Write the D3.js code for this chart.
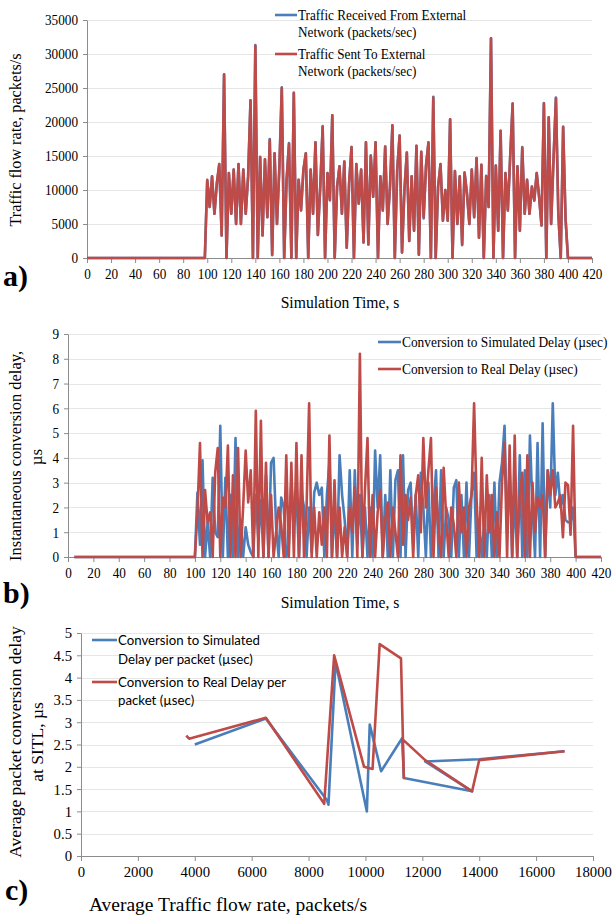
<!DOCTYPE html>
<html>
<head>
<meta charset="utf-8">
<title>Traffic flow and conversion delay</title>
<script src="https://d3js.org/d3.v7.min.js"></script>
<style>
    body { margin: 0; background: #fff; }
    .tick text { font-family: 'Liberation Serif', 'Times New Roman', serif; }
</style>
</head>
<body>
<div id="chart"></div>
<script>
// ---- panel a: traffic flow rate vs simulation time ----
var timeA = [0, 96, 98,
    100, 102, 104, 106, 108, 110, 112, 114, 116, 118,
    120, 122, 124, 126, 128, 130, 132, 134, 136, 138,
    140, 142, 144, 146, 148, 150, 152, 154, 156, 158,
    160, 162, 164, 166, 168, 170, 172, 174, 176, 178,
    180, 182, 184, 186, 188, 190, 192, 194, 196, 198,
    200, 202, 204, 206, 208, 210, 212, 214, 216, 218,
    220, 222, 224, 226, 228, 230, 232, 234, 236, 238,
    240, 242, 244, 246, 248, 250, 252, 254, 256, 258,
    260, 262, 264, 266, 268, 270, 272, 274, 276, 278,
    280, 282, 284, 286, 288, 290, 292, 294, 296, 298,
    300, 302, 304, 306, 308, 310, 312, 314, 316, 318,
    320, 322, 324, 326, 328, 330, 332, 334, 336, 338,
    340, 342, 344, 346, 348, 350, 352, 354, 356, 358,
    360, 362, 364, 366, 368, 370, 372, 374, 376, 378,
    380, 382, 384, 386, 388, 390, 392, 394, 396, 398,
    400, 402, 404, 420];

var sentA = [0, 0, 0,
    11500, 7500, 12000, 6500, 11000, 13800, 3300, 27000, 0, 12500,
    6500, 13000, 5000, 13800, 5000, 13000, 6500, 12000, 23200, 0,
    31200, 0, 14800, 3300, 14500, 6000, 17400, 500, 15400, 5000,
    13300, 25000, 0, 11500, 16800, 0, 24300, 0, 11500, 7000,
    13000, 15400, 0, 13000, 6500, 17000, 3400, 10500, 19300, 0,
    12500, 8500, 21000, 0, 10500, 13500, 6500, 14200, 1500, 11000,
    16300, 0, 13800, 8000, 13000, 2300, 17000, 2000, 15000, 9000,
    17000, 0, 12000, 7000, 16400, 5000, 10500, 19500, 0, 13000,
    18000, 800, 10000, 15500, 2500, 12000, 4000, 16500, 500, 15600,
    6000, 13700, 17000, 0, 23600, 0, 10500, 13800, 5500, 10000,
    5500, 20400, 0, 12800, 5000, 12000, 2000, 12500, 9500, 5000,
    13000, 6000, 14700, 3000, 13700, 0, 12000, 7500, 32300, 0,
    13600, 4000, 18700, 0, 12500, 7000, 15000, 22700, 0, 13500,
    4000, 16200, 6500, 11500, 6500, 10500, 8500, 12500, 9000, 4800,
    22700, 0, 20700, 5000, 14500, 23500, 6500, 0, 19300, 5800,
    0, 0, 0, 0];

var recvA = [0, 0, 0,
    11400, 7500, 12000, 6500, 11000, 13800, 3300, 27000, 0, 12500,
    6500, 13000, 5000, 13800, 5000, 13000, 6500, 12000, 23200, 0,
    31300, 0, 14900, 3300, 14500, 6000, 17500, 400, 15400, 5000,
    13400, 25100, 0, 11500, 16900, 0, 24300, 0, 11500, 7000,
    13000, 15400, 0, 13000, 6500, 17000, 3400, 10500, 19400, 0,
    12500, 8500, 21000, 0, 10500, 13500, 6500, 14200, 1500, 11000,
    16300, 0, 13800, 8000, 13000, 2300, 17000, 2000, 15100, 9000,
    17000, 0, 12000, 7000, 16400, 5000, 10500, 19500, 0, 13000,
    18000, 800, 10000, 15500, 2500, 12000, 4000, 16500, 500, 15600,
    5800, 13700, 17000, 0, 23700, 0, 10500, 13800, 5500, 10000,
    5500, 20400, 0, 12800, 5000, 12000, 1900, 12600, 9500, 5000,
    13000, 6000, 14700, 3000, 13700, 0, 12100, 7500, 32300, 0,
    13600, 4000, 18700, 0, 12500, 7000, 15100, 22700, 0, 13500,
    4000, 16300, 6500, 11500, 6500, 10500, 8400, 12500, 9000, 4800,
    22800, 0, 20700, 5000, 14500, 23600, 6500, 0, 19300, 5800,
    0, 0, 0, 0];

// ---- panel b: instantaneous conversion delay vs simulation time ----
var timeB = [5, 98,
    100, 102, 104, 106, 108, 110, 112, 114, 116, 118,
    120, 122, 124, 126, 128, 130, 132, 134, 136, 138,
    140, 142, 144, 146, 148, 150, 152, 154, 156, 158,
    160, 162, 164, 166, 168, 170, 172, 174, 176, 178,
    180, 182, 184, 186, 188, 190, 192, 194, 196, 198,
    200, 202, 204, 206, 208, 210, 212, 214, 216, 218,
    220, 222, 224, 226, 228, 230, 232, 234, 236, 238,
    240, 242, 244, 246, 248, 250, 252, 254, 256, 258,
    260, 262, 264, 266, 268, 270, 272, 274, 276, 278,
    280, 282, 284, 286, 288, 290, 292, 294, 296, 298,
    300, 302, 304, 306, 308, 310, 312, 314, 316, 318,
    320, 322, 324, 326, 328, 330, 332, 334, 336, 338,
    340, 342, 344, 346, 348, 350, 352, 354, 356, 358,
    360, 362, 364, 366, 368, 370, 372, 374, 376, 378,
    380, 382, 384, 386, 388, 390, 392, 394, 396, 398,
    400, 402, 420];

var simB = [0, 0,
    0, 2.6, 0.5, 3.9, 0, 1.4, 0, 3.2, 1.0, 0.8,
    5.3, 0, 3.2, 0, 2.5, 0, 4.8, 0, 1.5, 0,
    1.2, 0.5, 0.2, 0, 2.5, 0.7, 2.3, 0, 3.3, 0,
    3.8, 4.0, 1.2, 0, 2.4, 2.0, 0, 0.5, 3.0, 1.5,
    2.6, 0, 2.6, 2.0, 0, 2.0, 0.2, 2.6, 3.0, 2.5,
    2.8, 0, 2.5, 3.8, 0, 2.0, 0, 4.1, 2.5, 1.5,
    0, 3.5, 0, 3.5, 0.5, 2.5, 0, 2.0, 0, 2.0,
    0, 4.3, 2.0, 4.1, 0, 2.5, 0, 3.5, 0, 3.1,
    3.5, 0, 4.1, 0, 2.7, 3.0, 0.5, 2.5, 0, 3.4,
    2.0, 0, 3.0, 0, 2.0, 3.5, 0, 3.5, 0, 2.0,
    1.5, 0, 2.8, 3.1, 0, 2.5, 0, 3.0, 0, 2.6,
    3.4, 0, 1.5, 0, 1.4, 0, 2.5, 0, 3.0, 0,
    3.0, 3.8, 5.3, 1.0, 3.5, 0, 2.5, 0, 4.1, 0,
    3.5, 0, 4.9, 2.0, 0, 4.6, 0, 5.4, 0, 3.5,
    2.0, 6.2, 2.5, 3.4, 2.0, 2.5, 1.5, 1.4, 1.4, 2.0,
    0, 0, 0];

var realB = [0, 0,
    0, 1.8, 4.6, 0, 2.7, 1.4, 1.8, 0, 3.4, 4.4,
    0, 2.4, 2.0, 4.5, 0, 3.3, 0, 4.4, 0, 2.0,
    4.3, 2.2, 3.5, 0, 5.9, 0, 5.5, 0, 3.8, 0,
    2.5, 0, 1.0, 2.0, 1.3, 0, 4.1, 0, 3.8, 0,
    4.6, 0, 4.1, 0, 2.0, 6.2, 0, 2.0, 0, 1.8,
    0.5, 2.0, 0, 4.9, 0, 3.1, 0, 2.0, 0, 1.2,
    0, 2.0, 1.0, 2.8, 0, 8.2, 0, 2.7, 4.8, 0,
    2.5, 0, 1.8, 2.7, 0, 1.5, 2.2, 0, 2.0, 1.0,
    0, 4.1, 0.5, 2.5, 1.5, 2.4, 0, 2.5, 3.3, 1.0,
    4.8, 2.0, 3.5, 4.8, 0, 2.8, 1.0, 0, 3.6, 1.6,
    0, 2.0, 1.3, 0, 3.0, 1.0, 2.0, 0, 2.0, 2.5,
    6.2, 2.3, 0, 4.0, 0, 3.3, 1.0, 2.5, 0, 1.8,
    0, 3.0, 4.6, 0, 4.5, 0, 4.9, 0, 2.5, 3.4,
    0, 4.1, 0, 3.0, 1.0, 2.4, 2.0, 2.5, 0, 3.5,
    2.5, 3.5, 2.0, 2.2, 2.5, 0.8, 3.0, 2.9, 0.9, 5.3,
    0, 0, 0];

// ---- panel c: average delay vs average traffic rate ----
var rateSim = [4000, 6500, 8650, 8700, 8950, 10050, 10150, 10550, 11300, 11350, 13750, 12100, 14000, 17000];
var delaySim = [2.5, 3.08, 1.25, 1.15, 4.35, 1.0, 2.95, 1.9, 2.65, 1.75, 1.45, 2.12, 2.17, 2.35];
var rateReal = [3700, 3800, 6500, 8550, 8900, 9950, 10250, 10500, 11250, 11350, 11300, 12100, 13750, 14000, 17000];
var delayReal = [2.7, 2.63, 3.1, 1.17, 4.5, 2.0, 1.95, 4.75, 4.43, 1.75, 2.62, 2.15, 1.45, 2.15, 2.35];

// tick labels
var timeTicks = [0, 20, 40, 60, 80, 100, 120, 140, 160, 180, 200, 220, 240, 260, 280, 300, 320, 340, 360, 380, 400, 420];
var flowTicks = [0, 5000, 10000, 15000, 20000, 25000, 30000, 35000];
var delayTicks = [0, 1, 2, 3, 4, 5, 6, 7, 8, 9];
var rateTicks = [0, 2000, 4000, 6000, 8000, 10000, 12000, 14000, 16000, 18000];
var avgDelayTicks = [0, 0.5, 1, 1.5, 2, 2.5, 3, 3.5, 4, 4.5, 5];

var serif = "'Liberation Serif', 'Times New Roman', serif";
var sans = "Lato, 'Noto Sans', sans-serif";
var blue = "#4a7ebb";
var red = "#be4b48";

var svg = d3.select("#chart").append("svg")
    .attr("width", 614)
    .attr("height", 915);

// the scanned figure is a bit narrow, so texts get squeezed sideways
var squeeze = function (sel, f) {
    sel.each(function () {
        var n = this.getComputedTextLength();
        d3.select(this).attr("textLength", n * f).attr("lengthAdjust", "spacingAndGlyphs");
    });
};

var drawAxes = function (x, y, xTicks, yTicks, fontSize, f) {
    var g = svg.append("g");
    g.selectAll("line.grid")
        .data(yTicks.filter(function (d) { return d !== 0; }))
        .enter()
        .append("line")
        .attr("class", "grid")
        .attr("x1", x.range()[0])
        .attr("x2", x.range()[1])
        .attr("y1", function (d) { return Math.round(y(d)) + 0.5; })
        .attr("y2", function (d) { return Math.round(y(d)) + 0.5; })
        .attr("stroke", "#e6e6e6");
    var xg = g.append("g")
        .attr("transform", "translate(0," + y.range()[0] + ")")
        .call(d3.axisBottom(x).tickValues(xTicks).tickSize(5).tickSizeOuter(0).tickPadding(5)
            .tickFormat(function (d) { return d; }));
    var yg = g.append("g")
        .attr("transform", "translate(" + x.range()[0] + ",0)")
        .call(d3.axisLeft(y).tickValues(yTicks).tickSize(4).tickSizeOuter(0).tickPadding(5)
            .tickFormat(function (d) { return d; }));
    xg.attr("font-family", serif).attr("font-size", fontSize);
    yg.attr("font-family", serif).attr("font-size", fontSize);
    g.selectAll(".domain, .tick line").attr("stroke", "#8c8c8c");
    var labels = g.selectAll(".tick text")
        .attr("font-family", serif)
        .attr("font-size", fontSize)
        .attr("fill", "#000");
    squeeze(labels, f);
};

var drawLine = function (xs, ys, x, y, color) {
    var pts = xs.map(function (d, i) { return [d, ys[i]]; });
    svg.append("path")
        .datum(pts)
        .attr("fill", "none")
        .attr("stroke", color)
        .attr("stroke-width", 2.6)
        .attr("stroke-linejoin", "round")
        .attr("d", d3.line()
            .x(function (d) { return x(d[0]); })
            .y(function (d) { return y(d[1]); }));
};

var addText = function (txt, px, py, opts) {
    var t = svg.append("text")
        .attr("x", px)
        .attr("y", py)
        .style("font-family", opts.font || serif)
        .style("font-size", (opts.size || 14) + "px")
        .style("font-weight", opts.weight || "normal")
        .attr("text-anchor", opts.anchor || "start")
        .attr("fill", "#000")
        .text(txt);
    if (opts.rotate) {
        t.attr("x", 0).attr("y", 0)
            .attr("transform", "translate(" + px + "," + py + ") rotate(-90)");
    }
    if (opts.squeeze) squeeze(t, opts.squeeze);
    return t;
};

var legendItem = function (color, x1, x2, ly, lines, font, size, gap, f) {
    svg.append("line")
        .attr("x1", x1).attr("x2", x2)
        .attr("y1", ly).attr("y2", ly)
        .attr("stroke", color)
        .attr("stroke-width", 2.6);
    lines.forEach(function (s, i) {
        addText(s, x2 + 1, ly + i * gap, { font: font, size: size, squeeze: f }).attr("dy", "0.35em");
    });
};

// panel a
var xA = d3.scaleLinear().domain([0, 420]).range([87, 592]);
var yA = d3.scaleLinear().domain([0, 35000]).range([258, 20]);
drawAxes(xA, yA, timeTicks, flowTicks, 15, 0.88);
drawLine(timeA, recvA, xA, yA, blue);
drawLine(timeA, sentA, xA, yA, red);
legendItem(blue, 275, 297, 15, ["Traffic Received From External", "Network (packets/sec)"], serif, 15, 17, 0.88);
legendItem(red, 275, 297, 54, ["Traffic Sent To External", "Network (packets/sec)"], serif, 15, 17, 0.88);
addText("Traffic flow rate, packets/s", 21, 140, { size: 17, anchor: "middle", rotate: true, squeeze: 0.95 });
addText("Simulation Time, s", 340, 308, { size: 17, anchor: "middle", squeeze: 0.92 });
addText("a)", 3, 286, { size: 30, weight: "bold" });

// panel b
var xB = d3.scaleLinear().domain([0, 420]).range([68, 601]);
var yB = d3.scaleLinear().domain([0, 9]).range([557, 334]);
drawAxes(xB, yB, timeTicks, delayTicks, 15, 0.88);
drawLine(timeB, simB, xB, yB, blue);
drawLine(timeB, realB, xB, yB, red);
legendItem(blue, 378, 401, 342, ["Conversion to Simulated Delay (\u00b5sec)"], serif, 13.8, 17, 0.97);
legendItem(red, 378, 401, 369, ["Conversion to Real Delay (\u00b5sec)"], serif, 13.8, 17, 0.97);
addText("Instantaneous conversion delay,", 21, 456, { size: 17, anchor: "middle", rotate: true, squeeze: 0.97 });
addText("\u00b5s", 42, 457, { size: 17, anchor: "middle", rotate: true });
addText("Simulation Time, s", 340, 608, { size: 17, anchor: "middle", squeeze: 0.92 });
addText("b)", 3, 603, { size: 30, weight: "bold" });

// panel c
var xC = d3.scaleLinear().domain([0, 18000]).range([81, 593]);
var yC = d3.scaleLinear().domain([0, 5]).range([856, 633]);
drawAxes(xC, yC, rateTicks, avgDelayTicks, 15.5, 0.95);
drawLine(rateSim, delaySim, xC, yC, blue);
drawLine(rateReal, delayReal, xC, yC, red);
legendItem(blue, 92, 117, 640, ["Conversion to Simulated", "Delay per packet (\u00b5sec)"], sans, 13.5, 19, 0.98);
legendItem(red, 92, 117, 682, ["Conversion to Real Delay per", "packet (\u00b5sec)"], sans, 13.5, 18, 0.98);
addText("Average packet conversion delay", 21, 742, { size: 17.5, anchor: "middle", rotate: true });
addText("at SITL, \u00b5s", 43, 742, { size: 17.5, anchor: "middle", rotate: true });
addText("Average Traffic flow rate, packets/s", 228, 911, { size: 19.5, anchor: "middle" });
addText("c)", 5, 900, { size: 30, weight: "bold" });
</script>
</body>
</html>
